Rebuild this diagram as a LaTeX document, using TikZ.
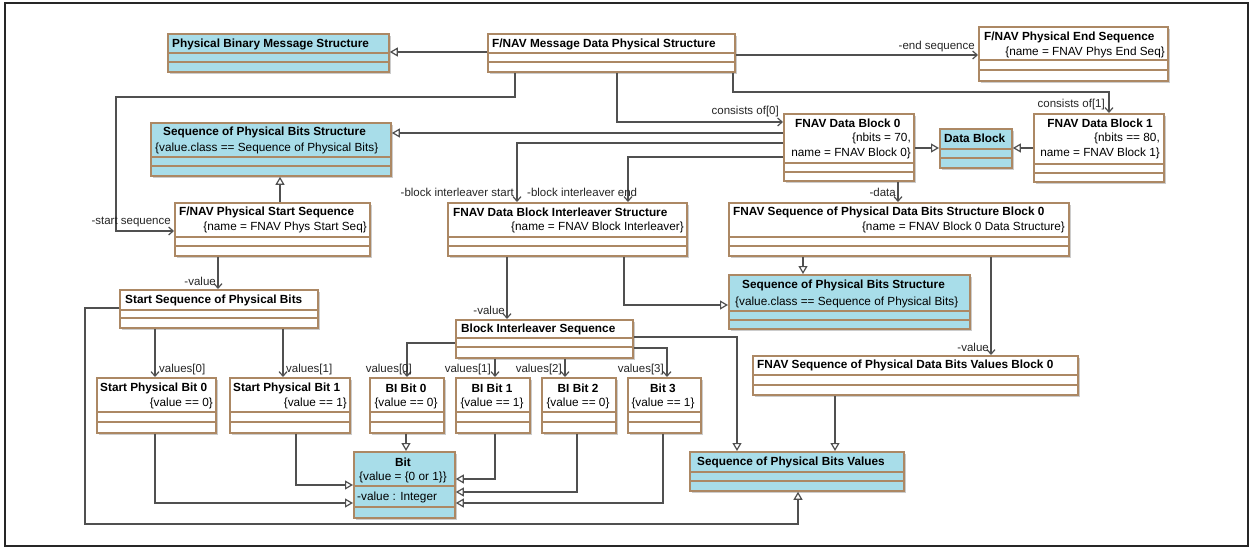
\documentclass[tikz,border=0pt]{standalone}
\usepackage{fontspec}
\setmainfont{Liberation Sans}
\usetikzlibrary{arrows.meta,shadows}
\definecolor{umlborder}{RGB}{172,136,100}
\definecolor{umlcyan}{RGB}{168,221,233}
\definecolor{conncol}{RGB}{80,80,80}
\tikzset{
 clsbase/.style={draw=umlborder, line width=1.8pt, fill=white, inner sep=0pt, anchor=north west,
   drop shadow={shadow xshift=2pt, shadow yshift=-2pt, fill=black, opacity=0.2}},
 clscyan/.style={clsbase, fill=umlcyan},
 sepline/.style={draw=umlborder, line width=1.4pt},
 ttl/.style={font=\fontsize{11.8}{13}\selectfont\bfseries, inner sep=0pt},
 cst/.style={font=\fontsize{11.8}{13}\selectfont, inner sep=0pt},
 lbl/.style={font=\fontsize{11.5}{13}\selectfont, inner sep=0pt, text=black!85},
 conn/.style={draw=conncol, line width=2pt},
 gen/.style={conn, -{Triangle[open, length=8pt, width=9pt, line width=1.2pt, fill=white]}},
 nav/.style={conn, -{Straight Barb[length=4.5pt, width=8pt, line width=1.2pt]}},
}
\newcommand{\umlcls}[8]{%
 \node[#2, minimum width={(#5-#3)*1pt}, minimum height={(#6-#4)*1pt}] (#1) at (#3,#4) {};
 \draw[sepline] (#1.west |- 0,#7) -- (#1.east |- 0,#7);
 \draw[sepline] (#1.west |- 0,#8) -- (#1.east |- 0,#8);
}
\begin{document}
\begin{tikzpicture}[x=1pt,y=-1pt]
\useasboundingbox (0,0) rectangle (1253,548);
\fill[white] (0,0) rectangle (1253,548);
\draw[line width=1.2pt, black!85] (5,3) rectangle (1248,546);

% classes
\umlcls{pbms}{clscyan}{167}{33}{388}{71}{53}{62}
\umlcls{fmdps}{clsbase}{487}{33}{734}{71}{53}{62}
\umlcls{endseq}{clsbase}{978}{26}{1167}{80}{60}{70}
\umlcls{spbs1}{clscyan}{150}{122}{390}{175}{157}{166}
\umlcls{blk0}{clsbase}{783}{113}{913}{180}{163}{172}
\umlcls{datablk}{clscyan}{939}{128}{1011}{167}{149}{158}
\umlcls{blk1}{clsbase}{1033}{113}{1163}{181}{164}{173}
\umlcls{startseq}{clsbase}{174}{202}{369}{255}{237}{246}
\umlcls{interl}{clsbase}{447}{202}{686}{255}{237}{246}
\umlcls{seqstr}{clsbase}{728}{202}{1068}{255}{237}{246}
\umlcls{sspb}{clsbase}{119}{289}{317}{327}{310}{318}
\umlcls{spbs2}{clscyan}{728}{274}{969}{328}{311}{320}
\umlcls{bis}{clsbase}{455}{319}{632}{357}{338}{347}
\umlcls{valblk}{clsbase}{752}{355}{1077}{394}{375}{385}
\umlcls{spb0}{clsbase}{96}{377}{215}{432}{412}{422}
\umlcls{spb1}{clsbase}{229}{377}{349}{432}{412}{422}
\umlcls{bib0}{clsbase}{369}{377}{443}{432}{412}{422}
\umlcls{bib1}{clsbase}{455}{377}{529}{432}{412}{422}
\umlcls{bib2}{clsbase}{541}{377}{615}{432}{412}{422}
\umlcls{bit3}{clsbase}{627}{377}{700}{432}{412}{422}
\umlcls{bit}{clscyan}{353}{451}{454}{517}{486}{507}
\umlcls{sbv}{clscyan}{689}{451}{903}{490}{472}{481}

% texts
\node[ttl, anchor=west] (pbms-t) at (172,44) {Physical Binary Message Structure};
\node[ttl, anchor=west] (fmdps-t) at (492,44) {F/NAV Message Data Physical Structure};
\node[ttl, anchor=west] (endseq-t) at (984,37) {F/NAV Physical End Sequence};
\node[cst, anchor=east] (endseq-c) at (1165,52) {\{name = FNAV Phys End Seq\}};
\node[ttl, anchor=west] (spbs1-t) at (163,132) {Sequence of Physical Bits Structure};
\node[cst, anchor=west] (spbs1-c) at (155,148) {\{value.class == Sequence of Physical Bits\}};
\node[ttl, anchor=west] (blk0-t) at (795,123) {FNAV Data Block 0};
\node[cst, anchor=east] (blk0-c1) at (911,138) {\{nbits = 70,};
\node[cst, anchor=east] (blk0-c2) at (911,153) {name = FNAV Block 0\}};
\node[ttl, anchor=west] (datablk-t) at (944,138) {Data Block};
\node[ttl] (blk1-t) at (1100,123) {FNAV Data Block 1};
\node[cst, anchor=east] (blk1-c1) at (1160,138) {\{nbits == 80,};
\node[cst, anchor=east] (blk1-c2) at (1160,153) {name = FNAV Block 1\}};
\node[ttl, anchor=west] (startseq-t) at (179,212) {F/NAV Physical Start Sequence};
\node[cst, anchor=east] (startseq-c) at (367,227) {\{name = FNAV Phys Start Seq\}};
\node[ttl, anchor=west] (interl-t) at (453,212) {FNAV Data Block Interleaver Structure};
\node[cst, anchor=east] (interl-c) at (684,227) {\{name = FNAV Block Interleaver\}};
\node[ttl, anchor=west] (seqstr-t) at (733,212) {FNAV Sequence of Physical Data Bits Structure Block 0};
\node[cst, anchor=east] (seqstr-c) at (1065,227) {\{name = FNAV Block 0 Data Structure\}};
\node[ttl, anchor=west] (sspb-t) at (125,300) {Start Sequence of Physical Bits};
\node[ttl, anchor=west] (spbs2-t) at (742,285) {Sequence of Physical Bits Structure};
\node[cst, anchor=west] (spbs2-c) at (735,302) {\{value.class == Sequence of Physical Bits\}};
\node[ttl, anchor=west] (bis-t) at (461,329) {Block Interleaver Sequence};
\node[ttl, anchor=west] (valblk-t) at (757,365) {FNAV Sequence of Physical Data Bits Values Block 0};
\node[ttl, anchor=west] (spb0-t) at (100,388) {Start Physical Bit 0};
\node[cst, anchor=east] (spb0-c) at (213,403) {\{value == 0\}};
\node[ttl, anchor=west] (spb1-t) at (233,388) {Start Physical Bit 1};
\node[cst, anchor=east] (spb1-c) at (347,403) {\{value == 1\}};
\node[ttl] (bib0-t) at (406,388) {BI Bit 0};
\node[cst] (bib0-c) at (406,403) {\{value == 0\}};
\node[ttl] (bib1-t) at (492,388) {BI Bit 1};
\node[cst] (bib1-c) at (492,403) {\{value == 1\}};
\node[ttl] (bib2-t) at (578,388) {BI Bit 2};
\node[cst] (bib2-c) at (578,403) {\{value == 0\}};
\node[ttl] (bit3-t) at (663,388) {Bit 3};
\node[cst] (bit3-c) at (663,403) {\{value == 1\}};
\node[ttl] (bit-t) at (403,462) {Bit};
\node[cst] (bit-c) at (403,477) {\{value = \{0 or 1\}\}};
\node[cst, anchor=west] (bit-a) at (357,497) {-value : Integer};
\node[ttl, anchor=west] (sbv-t) at (697,462) {Sequence of Physical Bits Values};

% connectors
\draw[gen] (fmdps.west |- 0,52) -- (pbms.east |- 0,52);
\draw[nav] (fmdps.east |- 0,55) -- (endseq.west |- 0,55);
\node[lbl, anchor=east] (l-end) at (975,47) {-end sequence};
\draw[nav] (fmdps.south -| 733,0) -- (733,92) -| (blk1.north -| 1109,0);
\node[lbl, anchor=east] (l-c1) at (1105,105) {consists of[1]};
\draw[nav] (fmdps.south -| 617,0) |- (blk0.west |- 0,122);
\node[lbl, anchor=east] (l-c0) at (779,112) {consists of[0]};
\draw[nav] (fmdps.south -| 515,0) |- (116,97) |- (startseq.west |- 0,231);
\node[lbl, anchor=east] (l-ss) at (171,222) {-start sequence};
\draw[gen] (blk0.west |- 0,133) -- (spbs1.east |- 0,133);
\draw[nav] (blk0.west |- 0,143) -| (interl.north -| 517,0);
\node[lbl, anchor=east] (l-bis) at (514,192) {-block interleaver start};
\draw[nav] (blk0.west |- 0,157) -| (interl.north -| 628,0);
\node[lbl, anchor=west] (l-bie) at (527,192) {-block interleaver end};
\draw[gen] (blk0.east |- 0,148) -- (datablk.west |- 0,148);
\draw[gen] (blk1.west |- 0,148) -- (datablk.east |- 0,148);
\draw[nav] (blk0.south -| 898,0) -- (seqstr.north -| 898,0);
\node[lbl, anchor=east] (l-data) at (896,192) {-data};
\draw[gen] (startseq.north -| 280,0) -- (spbs1.south -| 280,0);
\draw[nav] (startseq.south -| 218,0) -- (sspb.north -| 218,0);
\node[lbl, anchor=east] (l-v1) at (216,281) {-value};
\draw[nav] (interl.south -| 507,0) -- (bis.north -| 507,0);
\node[lbl, anchor=east] (l-v2) at (505,310) {-value};
\draw[gen] (interl.south -| 624,0) |- (spbs2.west |- 0,305);
\draw[gen] (seqstr.south -| 803,0) -- (spbs2.north -| 803,0);
\draw[nav] (seqstr.south -| 991,0) -- (valblk.north -| 991,0);
\node[lbl, anchor=east] (l-v3) at (989,347) {-value};
\draw[nav] (sspb.south -| 155,0) -- (spb0.north -| 155,0);
\node[lbl, anchor=west] (l-s0) at (159,370) {values[0]};
\draw[nav] (sspb.south -| 283,0) -- (spb1.north -| 283,0);
\node[lbl, anchor=west] (l-s1) at (286,370) {values[1]};
\draw[gen] (sspb.west |- 0,308) -| (85,524) -| (sbv.south -| 798,0);
\draw[nav] (bis.west |- 0,343) -| (bib0.north -| 407,0);
\node[lbl, anchor=east] (l-b0) at (412,370) {values[0]};
\draw[nav] (bis.south -| 495,0) -- (bib1.north -| 495,0);
\node[lbl, anchor=east] (l-b1) at (491,370) {values[1]};
\draw[nav] (bis.south -| 565,0) -- (bib2.north -| 565,0);
\node[lbl, anchor=east] (l-b2) at (562,370) {values[2]};
\draw[nav] (bis.east |- 0,348) -| (bit3.north -| 667,0);
\node[lbl, anchor=east] (l-b3) at (664,370) {values[3]};
\draw[gen] (bis.east |- 0,337) -| (sbv.north -| 737,0);
\draw[gen] (bib0.south -| 406,0) -- (bit.north -| 406,0);
\draw[gen] (bib1.south -| 495,0) |- (bit.east |- 0,479);
\draw[gen] (bib2.south -| 577,0) |- (bit.east |- 0,492);
\draw[gen] (bit3.south -| 663,0) |- (bit.east |- 0,503);
\draw[gen] (spb1.south -| 296,0) |- (bit.west |- 0,485);
\draw[gen] (spb0.south -| 155,0) |- (bit.west |- 0,503);
\draw[gen] (valblk.south -| 835,0) -- (sbv.north -| 835,0);
\end{tikzpicture}
\end{document}
